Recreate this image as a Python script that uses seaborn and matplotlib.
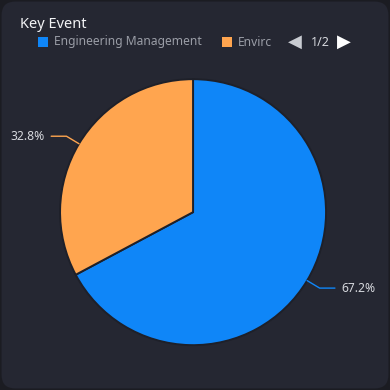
"""
Key Event pie chart (dark card style)
"""

import numpy as np
import matplotlib.pyplot as plt
import seaborn as sns
from matplotlib.patches import FancyBboxPatch, Rectangle

sns.set_theme(style="dark")
plt.rcParams['font.family'] = ['Noto Sans', 'DejaVu Sans']

# data
categories = ["Engineering Management", "Environment"]
shares = [67.2, 32.8]
legend_labels = ["Engineering Management", "Envirc"]
page_label = "1/2"

colors = ["#0f86f8", "#ffa54f"]
bg = "#252732"
text_color = "#d6d8dd"
legend_text = "#9a9da6"

fig = plt.figure(figsize=(3.9, 3.9), dpi=100)
fig.patch.set_facecolor("#1b1c22")
card = FancyBboxPatch((0.004, 0.004), 0.992, 0.992, boxstyle="round,pad=0,rounding_size=0.035",
                      transform=fig.transFigure, facecolor=bg, edgecolor="none", zorder=-10)
fig.patches.append(card)

ax = fig.add_axes([0.154, 0.115, 0.682, 0.682])
ax.set_facecolor("none")
wedges, _ = ax.pie(shares, colors=colors, startangle=90, counterclock=False, radius=1,
                   wedgeprops=dict(edgecolor="#1e2029", linewidth=1.4))
ax.set_xlim(-1, 1)
ax.set_ylim(-1, 1)
ax.set_aspect("equal")
ax.axis("off")

# leader lines + percentage labels
for w, val, col in zip(wedges, shares, colors):
    ang = np.deg2rad((w.theta1 + w.theta2) / 2)
    x0, y0 = np.cos(ang), np.sin(ang)
    x1, y1 = 1.11 * x0, 1.11 * y0
    side = 1 if x0 > 0 else -1
    x2 = x1 + side * 0.115
    ax.plot([x0, x1, x2], [y0, y1, y1], color=col, lw=1, clip_on=False)
    ax.text(x2 + side * 0.045, y1, f"{val}%", color=text_color, fontsize=8.7,
            ha="left" if side > 0 else "right", va="center", clip_on=False)

# title
fig.text(20 / 390, 1 - 25 / 390, "Key Event", color="#f2f3f5", fontsize=10.5, va="center", ha="left")

# legend row
ly = 1 - 42 / 390
for lx, lab, col in [(38, legend_labels[0], colors[0]), (222, legend_labels[1], colors[1])]:
    fig.patches.append(Rectangle((lx / 390, ly - 5 / 390), 10 / 390, 10 / 390,
                                 transform=fig.transFigure, facecolor=col, edgecolor="none"))
    fig.text((lx + 16) / 390, ly, lab, color=legend_text, fontsize=8.7, va="center", ha="left")

fig.text(295 / 390, ly, "◀", color="#c9ccd2", fontsize=13, va="center", ha="center",
         family="DejaVu Sans")
fig.text(320 / 390, ly, page_label, color="#d6d8dd", fontsize=9, va="center", ha="center")
fig.text(344 / 390, ly, "▶", color="#ffffff", fontsize=13, va="center", ha="center",
         family="DejaVu Sans")

plt.savefig("out.png", dpi=100, facecolor=fig.get_facecolor())
